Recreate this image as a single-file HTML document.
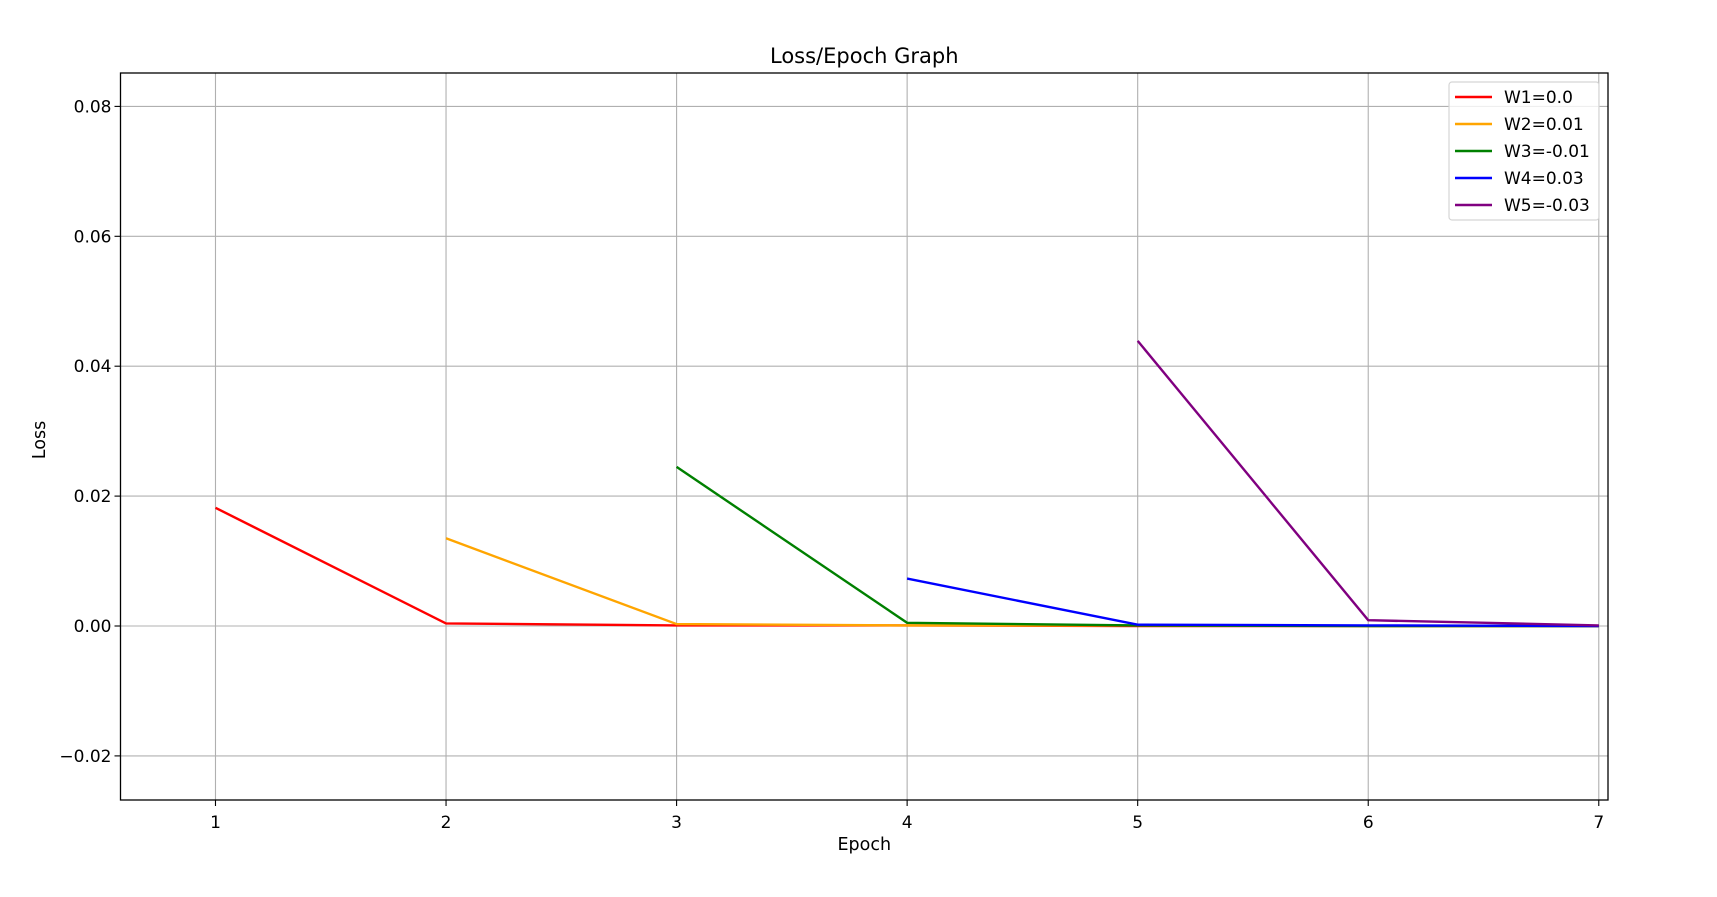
<!DOCTYPE html>
<html><head><meta charset="utf-8"><style>
body{margin:0;background:#fff}
svg{display:block;font-family:"DejaVu Sans","Liberation Sans",sans-serif}
</style></head><body>
<svg id="chart" width="1717" height="897">
<rect width="1717" height="897" fill="#fff"/>
<g id="grid"></g><g id="series"></g><g id="axes"></g>
</svg>
<script>
const epochs=[1,2,3,4,5,6,7];
const seriesNames=["W1=0.0","W2=0.01","W3=-0.01","W4=0.03","W5=-0.03"];
const seriesColors=["#ff0000","#ffa500","#008000","#0000ff","#800080"];
const w1=[0.0182,0.0004,0.0001,0.0001,0.0,0.0,0.0];
const w2=[null,0.0135,0.0003,0.0001,0.0001,0.0,0.0];
const w3=[null,null,0.0245,0.0005,0.0001,0.0,0.0];
const w4=[null,null,null,0.0073,0.0002,0.0001,0.0];
const w5=[null,null,null,null,0.0439,0.0009,0.0001];
const xTicks=[1,2,3,4,5,6,7];
const yTicks=[-0.02,0,0.02,0.04,0.06,0.08];
const yTickLabels=["\u22120.02","0.00","0.02","0.04","0.06","0.08"];
const allSeries=[w1,w2,w3,w4,w5];

const L=120.5,R=1608,T=73,B=800;
const xMin=0.588,xMax=7.04;
const xs=v=>L+(v-xMin)/(xMax-xMin)*(R-L);
const ys=v=>626-v/0.02*129.9;
const NS="http://www.w3.org/2000/svg";
function mk(parent,tag,attrs,text){const e=document.createElementNS(NS,tag);for(const k in attrs)e.setAttribute(k,attrs[k]);if(text!==undefined)e.textContent=text;document.getElementById(parent).appendChild(e);return e;}

xTicks.forEach(t=>{
 const g=mk("grid","line",{x1:xs(t),x2:xs(t),y1:T,y2:B,stroke:"#b0b0b0","stroke-width":1.1});
 
 
 const tk=mk("axes","line",{x1:xs(t),x2:xs(t),y1:B,y2:B+6,stroke:"#000","stroke-width":1.1});
 
 
 const tl=mk("axes","text",{x:xs(t),y:828,"text-anchor":"middle","font-size":17},String(t));
 
 
});
yTicks.forEach((t,i)=>{
 const g=mk("grid","line",{x1:L,x2:R,y1:ys(t),y2:ys(t),stroke:"#b0b0b0","stroke-width":1.1});
 
 
 const tk=mk("axes","line",{x1:L-6,x2:L,y1:ys(t),y2:ys(t),stroke:"#000","stroke-width":1.1});
 
 
 const tl=mk("axes","text",{x:L-9,y:ys(t)+6,"text-anchor":"end","font-size":17},yTickLabels[i]);
 
 
});
allSeries.forEach((s,si)=>{
 let pts=[];
 s.forEach((v,i)=>{if(v!==null)pts.push(xs(epochs[i]).toFixed(1)+","+ys(v).toFixed(1));});
 const p=mk("series","polyline",{points:pts.join(" "),fill:"none",stroke:seriesColors[si],"stroke-width":2.4});
 
 
});
const fr=mk("axes","rect",{x:L,y:T,width:R-L,height:B-T,fill:"none",stroke:"#000","stroke-width":1.3});


const ti=mk("axes","text",{x:(L+R)/2,y:63,"text-anchor":"middle","font-size":21},"Loss/Epoch Graph");


const xl=mk("axes","text",{x:(L+R)/2,y:850,"text-anchor":"middle","font-size":17.5},"Epoch");


const yl=mk("axes","text",{x:0,y:0,"text-anchor":"middle","font-size":17.5,transform:"translate(45,440) rotate(-90)"},"Loss");


const lb=mk("axes","rect",{x:1449,y:82,width:150,height:138,rx:3,fill:"#fff","fill-opacity":0.8,stroke:"#d5d5d5","stroke-width":1.2});


seriesNames.forEach((n,i)=>{
 const y=97+i*27;
 const ln=mk("axes","line",{x1:1455,x2:1492,y1:y,y2:y,stroke:seriesColors[i],"stroke-width":2.4});
 
 
 const tx=mk("axes","text",{x:1504,y:y+6,"font-size":17},n);
 
 
});
</script>
</body></html>
